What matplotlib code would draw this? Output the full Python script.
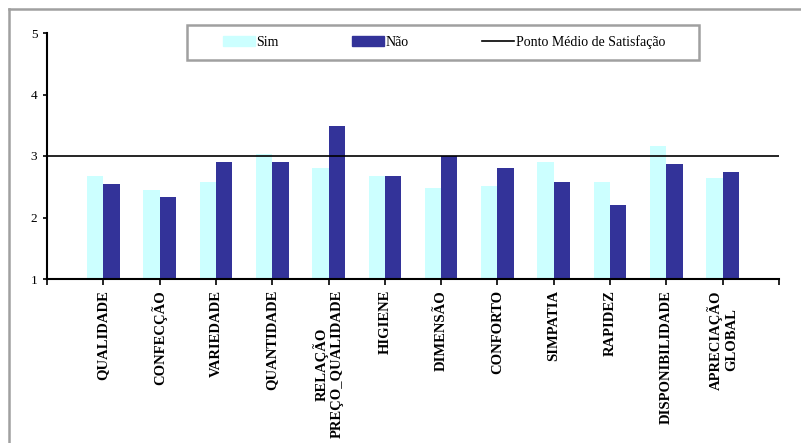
import numpy as np
import matplotlib
matplotlib.use('Agg')
import matplotlib.pyplot as plt
from matplotlib.patches import Patch, Rectangle
from matplotlib.lines import Line2D

plt.rcParams['font.family'] = ['Liberation Serif', 'DejaVu Serif']

categories = ['QUALIDADE', 'CONFECÇÃO', 'VARIEDADE', 'QUANTIDADE',
              'RELAÇÃO\nPREÇO_QUALIDADE', 'HIGIENE', 'DIMENSÃO', 'CONFORTO',
              'SIMPATIA', 'RAPIDEZ', 'DISPONIBILIDADE', 'APRECIAÇÃO\nGLOBAL']
sim = [2.67, 2.44, 2.57, 3.03, 2.80, 2.67, 2.48, 2.51, 2.90, 2.57, 3.16, 2.64]
nao = [2.54, 2.34, 2.90, 2.90, 3.49, 2.67, 3.00, 2.80, 2.57, 2.21, 2.87, 2.74]
ponto_medio = 3

fig = plt.figure(figsize=(8.01, 4.43), dpi=100)
ax = fig.add_axes([47 / 801, 1 - 279 / 443, 732 / 801, 246 / 443])

x = np.arange(1, len(categories) + 1)
w = 0.29
ax.bar(x - w / 2, sim, w, color='#CCFFFF', label='Sim')
ax.bar(x + w / 2, nao, w, color='#333399', label='Não')
ax.axhline(ponto_medio, color='black', lw=1.2)

ax.set_xlim(0, len(categories) + 1)
ax.set_ylim(1, 5)
ax.set_yticks([1, 2, 3, 4, 5])
ax.set_xticks(np.arange(0, len(categories) + 2))
ax.set_xticklabels([''] + categories + [''], rotation=90, fontsize=10.5,
                   fontweight='bold', va='top', ha='center', multialignment='center')
ax.tick_params(axis='y', labelsize=9.5, length=3, width=1.2, pad=4)
ax.tick_params(axis='x', length=4, width=1.2, pad=4)
for s in ['top', 'right']:
    ax.spines[s].set_visible(False)
for s in ['left', 'bottom']:
    ax.spines[s].set_linewidth(1.5)

# legend with its own box
handles = [Patch(color='#CCFFFF'), Patch(color='#333399'), Line2D([], [], color='black', lw=1.2)]
labels = ['Sim', 'Não', 'Ponto Médio de Satisfação']
fig.legend(handles, labels, loc='center', ncol=3, frameon=False, fontsize=10,
           bbox_to_anchor=(444 / 801, 1 - 42 / 443), handlelength=2.3, handleheight=0.8,
           handletextpad=0.1, columnspacing=5.3)
fig.patches.append(Rectangle((187 / 801, 1 - 60 / 443), 512 / 801, 35 / 443,
                             transform=fig.transFigure, fill=False,
                             edgecolor='#a0a0a0', lw=1.8))

# outer chart border (top and left visible)
fig.lines.append(Line2D([9 / 801, 1], [1 - 9 / 443, 1 - 9 / 443], transform=fig.transFigure,
                        color='#a0a0a0', lw=1.8))
fig.lines.append(Line2D([9 / 801, 9 / 801], [0, 1 - 9 / 443], transform=fig.transFigure,
                        color='#a0a0a0', lw=1.8))

fig.savefig('out.png', dpi=100)
